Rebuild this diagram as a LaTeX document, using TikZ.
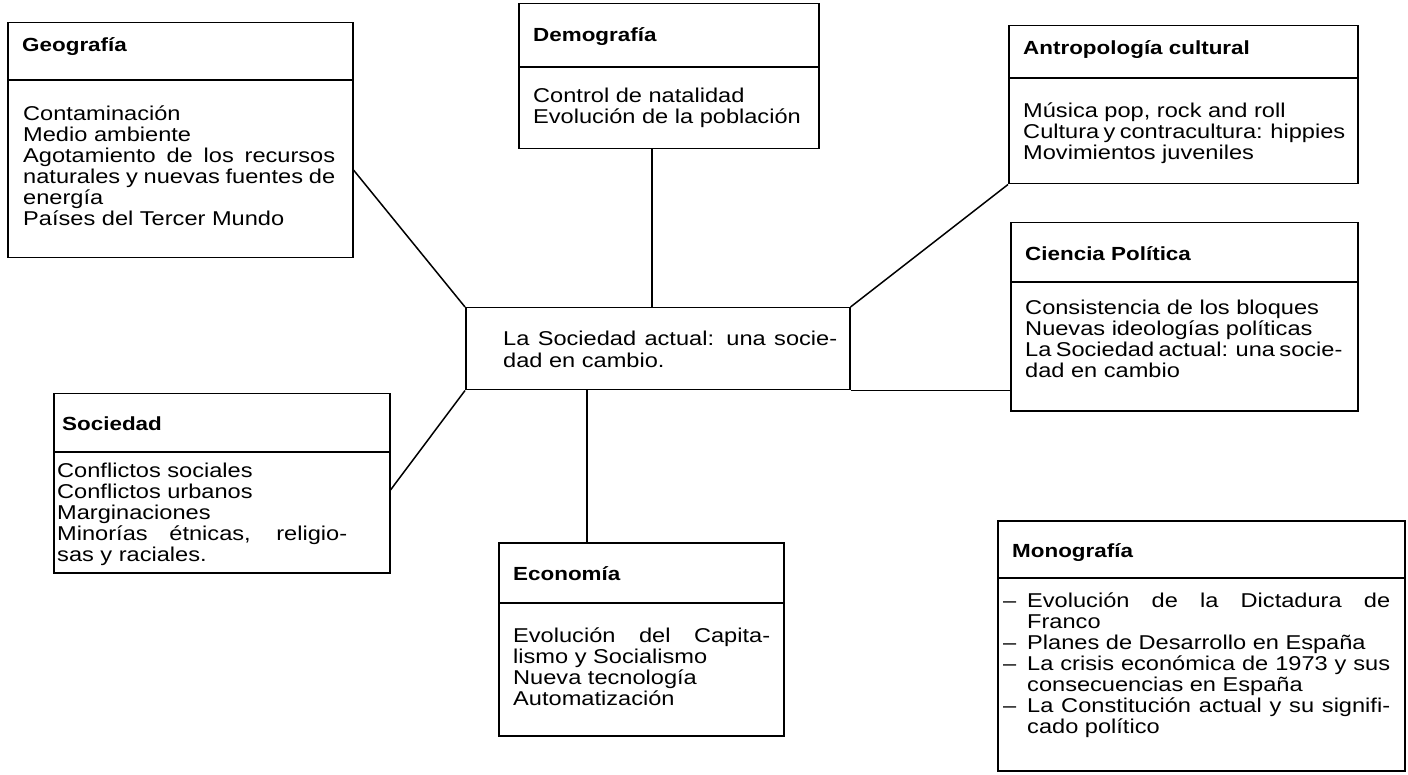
\documentclass[tikz,border=0pt]{standalone}
\usepackage{fontspec}
\setmainfont{Liberation Sans}[FakeStretch=1.18]
\newcommand{\J}[2]{\makebox[#1][s]{#2}}
\newcommand{\D}{\makebox[24pt][l]{–}}
\newcommand{\I}{\hspace*{24pt}}
\tikzset{
  box/.style={draw, line width=1.5pt, inner sep=0pt, anchor=north west},
  conn/.style={line width=1.5pt},
  ttl/.style={anchor=base west, inner sep=0pt, font=\fontsize{19}{21}\selectfont\bfseries},
  bdy/.style={anchor=base west, inner sep=0pt, font=\fontsize{20}{21}\selectfont},
}
\begin{document}
\begin{tikzpicture}[x=1pt, y=-1pt]
\useasboundingbox (0,0) rectangle (1408,775);

% boxes
\node[box, minimum width=345pt, minimum height=235pt] (geo) at (7,22) {};
\node[box, minimum width=300pt, minimum height=145pt] (dem) at (518,3) {};
\node[box, minimum width=349pt, minimum height=158pt] (ant) at (1008,25) {};
\node[box, minimum width=347pt, minimum height=188pt] (cie) at (1010,222) {};
\node[box, minimum width=384pt, minimum height=82pt] (cen) at (465,307) {};
\node[box, minimum width=336pt, minimum height=179pt] (soc) at (53,393) {};
\node[box, minimum width=285pt, minimum height=193pt] (eco) at (498,542) {};
\node[box, minimum width=407pt, minimum height=250pt] (mon) at (997,520) {};

% dividers
\draw[conn] (geo.west |- 0,80) -- (geo.east |- 0,80);
\draw[conn] (dem.west |- 0,67) -- (dem.east |- 0,67);
\draw[conn] (ant.west |- 0,78) -- (ant.east |- 0,78);
\draw[conn] (cie.west |- 0,282) -- (cie.east |- 0,282);
\draw[conn] (soc.west |- 0,452) -- (soc.east |- 0,452);
\draw[conn] (eco.west |- 0,603) -- (eco.east |- 0,603);
\draw[conn] (mon.west |- 0,578) -- (mon.east |- 0,578);

% titles
\node[ttl] (geot) at (22,52) {Geografía};
\node[ttl] (demt) at (533,42) {Demografía};
\node[ttl] (antt) at (1023,55) {Antropología cultural};
\node[ttl] (ciet) at (1025,261) {Ciencia Política};
\node[ttl] (soct) at (62,430) {Sociedad};
\node[ttl] (ecot) at (513,580) {Economía};
\node[ttl] (mont) at (1012,557) {Monografía};

% bodies
\node[bdy] (geob) at (23,121) {\parbox[t]{420pt}{\raggedright
Contaminación\\
Medio ambiente\\
\J{312pt}{Agotamiento de los recursos}\\
\J{312pt}{naturales y nuevas fuentes de}\\
energía\\
Países del Tercer Mundo}};

\node[bdy] (demb) at (533,103) {\parbox[t]{420pt}{\raggedright
Control de natalidad\\
Evolución de la población}};

\node[bdy] (antb) at (1023,118) {\parbox[t]{420pt}{\raggedright
Música pop, rock and roll\\
\J{318pt}{Cultura y contracultura: hippies}\\
Movimientos juveniles}};

\node[bdy] (cieb) at (1025,315) {\parbox[t]{420pt}{\raggedright
Consistencia de los bloques\\
Nuevas ideologías políticas\\
\J{312pt}{La Sociedad actual: una socie-}\\
dad en cambio}};

\node[bdy] (cenb) at (503,346) {\parbox[t]{420pt}{\raggedright
\J{334pt}{La Sociedad actual: una socie-}\\
dad en cambio.}};

\node[bdy] (socb) at (57,477) {\parbox[t]{420pt}{\raggedright
Conflictos sociales\\
Conflictos urbanos\\
Marginaciones\\
\J{290pt}{Minorías étnicas, religio-}\\
sas y raciales.}};

\node[bdy] (ecob) at (513,642) {\parbox[t]{420pt}{\raggedright
\J{257pt}{Evolución del Capita-}\\
lismo y Socialismo\\
Nueva tecnología\\
Automatización}};

\node[bdy] (monb) at (1003,607) {\parbox[t]{420pt}{\raggedright
\D\J{363pt}{Evolución de la Dictadura de}\\
\I Franco\\
\D Planes de Desarrollo en España\\
\D\J{363pt}{La crisis económica de 1973 y sus}\\
\I consecuencias en España\\
\D\J{363pt}{La Constitución actual y su signifi-}\\
\I cado político}};

% connectors
\draw[conn] (geo.east |- 0,170) -- (cen.north west);
\draw[conn] (652,0 |- dem.south) -- (652,0 |- cen.north);
\draw[conn] (ant.south west) -- (cen.north east);
\draw[conn] (cen.south east) -- (cie.west |- cen.south);
\draw[conn] (cen.south west) -- (soc.east |- 0,490);
\draw[conn] (587,0 |- cen.south) -- (587,0 |- eco.north);
\end{tikzpicture}
\end{document}
